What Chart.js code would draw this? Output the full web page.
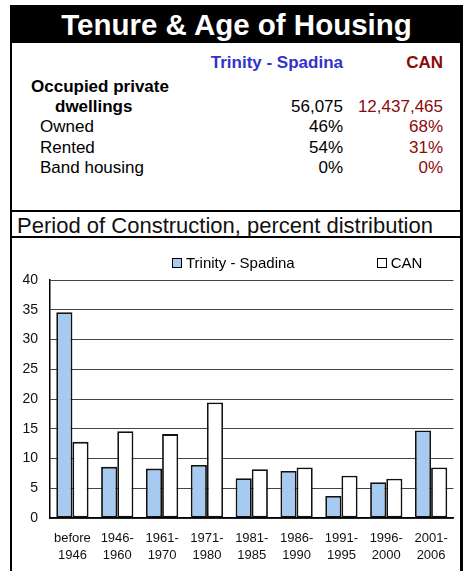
<!DOCTYPE html>
<html>
<head>
<meta charset="utf-8">
<script src="https://cdn.jsdelivr.net/npm/chart.js@4"></script>
<style>
  body { margin: 0; background: #fff; font-family: "Liberation Sans", Arial, sans-serif; }
  #page { position: relative; width: 467px; height: 571px; overflow: hidden; }
  #title { position: absolute; left: 10px; top: 5px; width: 453px; height: 38px; background: #000;
           color: #fff; font-weight: bold; font-size: 29.5px; line-height: 39px; text-align: center; }
  #tableBox { position: absolute; left: 10px; top: 43px; width: 448px; height: 167px;
              border-left: 2px solid #000; border-right: 3px solid #000; border-bottom: 2px solid #000; }
  .cell { position: absolute; font-size: 17px; white-space: nowrap; line-height: 20px; }
  .r1 { text-align: right; width: 200px; left: 131px; }
  .r2 { text-align: right; width: 150px; left: 281px; }
  .blue { color: #3333cc; }
  .red { color: #8b0a0a; }
  #subTitle { position: absolute; left: 10px; top: 212px; width: 426px; height: 24px; padding-right: 22px;
              border-left: 2px solid #000; border-right: 3px solid #000; border-bottom: 2px solid #000;
              font-size: 22px; line-height: 27px; text-align: center; color: #111; white-space: nowrap; }
  #chartBox { position: absolute; left: 10px; top: 238px; width: 448px; height: 340px;
              border-left: 2px solid #000; border-right: 3px solid #000; }
  #chartWrap { position: absolute; left: 0; top: 0; width: 448px; height: 333px; }
  #legend { position: absolute; top: 16px; left: 160px; font-size: 15px; display: flex; }
  .item { display: flex; align-items: center; }
  .box { width: 8px; height: 8px; border: 1.5px solid #000; margin-right: 4px; }
</style>
</head>
<body>
<div id="page">
  <div id="title">Tenure &amp; Age of Housing</div>
  <div id="tableBox"></div>
  <div id="subTitle">Period of Construction, percent distribution</div>
  <div id="chartBox">
    <div id="chartWrap"><canvas id="chart"></canvas></div>
    <div id="legend"></div>
  </div>
</div>
<script>
// --- Data ---
const regionNames = ['Trinity - Spadina', 'CAN'];
const tenureLabels = ['Owned', 'Rented', 'Band housing'];
const dwellings = ['56,075', '12,437,465'];
const tenureTrinity = ['46%', '54%', '0%'];
const tenureCan = ['68%', '31%', '0%'];

const periods = [['before', '1946'], ['1946-', '1960'], ['1961-', '1970'], ['1971-', '1980'],
                 ['1981-', '1985'], ['1986-', '1990'], ['1991-', '1995'], ['1996-', '2000'], ['2001-', '2006']];
const trinityValues = [34.6, 8.6, 8.3, 8.9, 6.7, 7.9, 3.7, 6.0, 14.7];
const canValues = [12.8, 14.6, 14.1, 19.4, 8.2, 8.5, 7.1, 6.6, 8.5];
const barColors = ['#a6caf0', '#ffffff'];

// --- Tenure table ---
const tableBox = document.getElementById('tableBox');
function addCell(text, cls, top, left, extra) {
    const d = document.createElement('div');
    d.className = 'cell ' + cls;
    d.textContent = text;
    d.style.top = top + 'px';
    if (left !== null) d.style.left = left + 'px';
    if (extra) Object.assign(d.style, extra);
    tableBox.appendChild(d);
}
addCell(regionNames[0], 'r1 blue', 10, null, { fontWeight: 'bold' });
addCell(regionNames[1], 'r2 red', 10, null, { fontWeight: 'bold' });
addCell('Occupied private', '', 34, 19, { fontWeight: 'bold' });
addCell('dwellings', '', 54, 43, { fontWeight: 'bold' });
addCell(dwellings[0], 'r1', 54, null);
addCell(dwellings[1], 'r2 red', 54, null);
tenureLabels.forEach((lab, i) => {
    const top = 74 + i * 20.7;
    addCell(lab, '', top, 28);
    addCell(tenureTrinity[i], 'r1', top, null);
    addCell(tenureCan[i], 'r2 red', top, null);
});

// --- Legend ---
const legend = document.getElementById('legend');
regionNames.forEach((name, i) => {
    const it = document.createElement('div');
    it.className = 'item';
    if (i > 0) it.style.marginLeft = '82px';
    const b = document.createElement('div');
    b.className = 'box';
    b.style.background = barColors[i];
    it.appendChild(b);
    const t = document.createElement('span');
    t.textContent = name;
    it.appendChild(t);
    legend.appendChild(it);
});

// --- Chart ---
Chart.defaults.font.family = '"Liberation Sans", Arial, sans-serif';
Chart.defaults.color = '#111';
new Chart(document.getElementById('chart'), {
    type: 'bar',
    data: {
        labels: periods,
        datasets: [
            { label: regionNames[0], data: trinityValues, backgroundColor: barColors[0],
              borderColor: '#111', borderWidth: 1.8, borderSkipped: false },
            { label: regionNames[1], data: canValues, backgroundColor: barColors[1],
              borderColor: '#111', borderWidth: 1.8, borderSkipped: false }
        ]
    },
    options: {
        responsive: true,
        maintainAspectRatio: false,
        animation: false,
        layout: { padding: { top: 42, right: 5, bottom: 0, left: 0 } },
        plugins: { legend: { display: false }, tooltip: { enabled: false } },
        datasets: { bar: { categoryPercentage: 0.72, barPercentage: 1.0 } },
        scales: {
            x: {
                grid: { display: false, drawTicks: false },
                border: { color: '#000', width: 1.5 },
                ticks: { font: { size: 13, lineHeight: 1.3 }, padding: 12, maxRotation: 0, autoSkip: false },
                afterFit: s => { s.height = 53; }
            },
            y: {
                min: 0, max: 40,
                ticks: { stepSize: 5, font: { size: 14 }, padding: 12 },
                grid: { color: '#444', lineWidth: 1, drawTicks: false },
                border: { color: '#000', width: 1.5 },
                afterFit: s => { s.width = 38; }
            }
        }
    }
});
</script>
</body>
</html>
